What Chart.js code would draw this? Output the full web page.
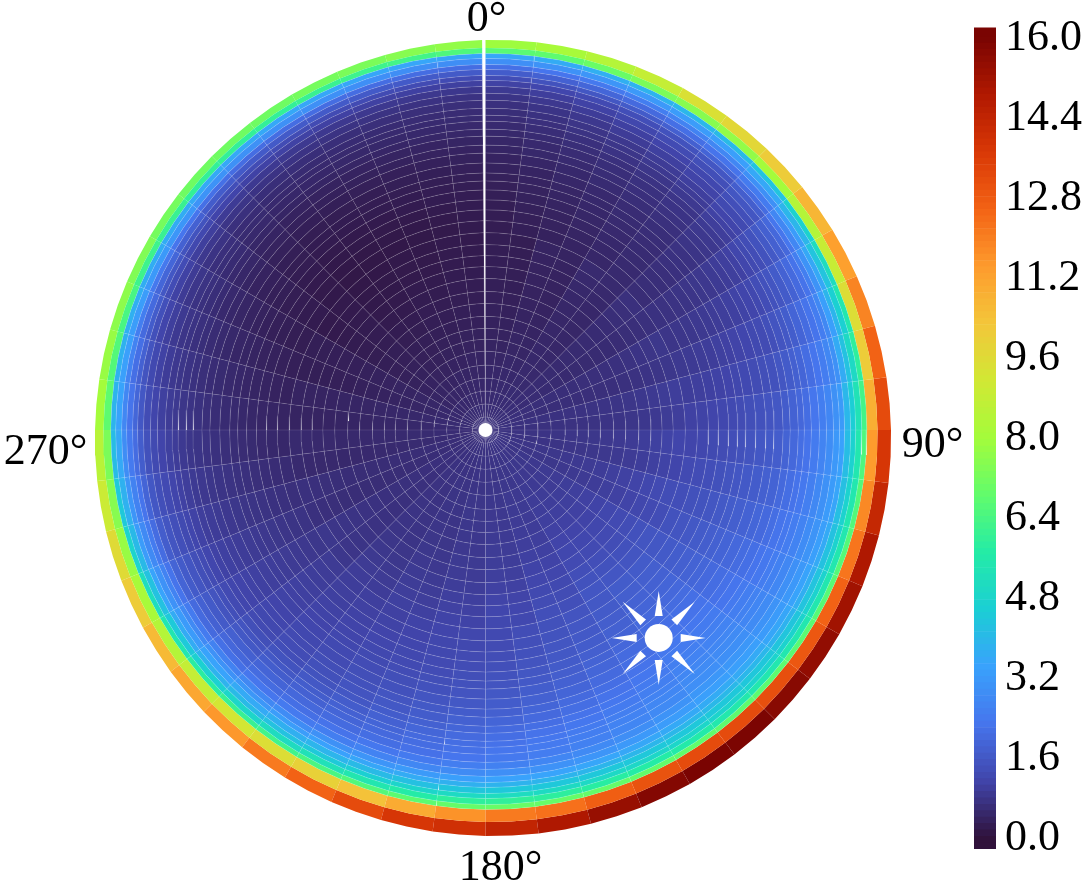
<!DOCTYPE html>
<html>
<head>
<meta charset="utf-8">
<style>
  html, body { margin: 0; background: #fff; }
  #container { position: absolute; left: 0; top: 0; }
  #bar { position: absolute; left: 960px; top: 0; }
</style>
<script src="https://cdn.jsdelivr.net/npm/chart.js@4"></script>
</head>
<body>
<canvas id="container" width="1088" height="885"></canvas>
<canvas id="bar" width="128" height="885"></canvas>
<script>
var ringEdges = [0,13,26,39,52,65,79,91,102,114,127,139,152,164,175,186,198,210,221,231,241,250,258,268,278,286,295,302,310,316,323,331,338,345,351,356,362,367,373,378,387,398]
var sectorStep = 7.5
var angleLabels = ["0°", "90°", "180°", "270°"]
var tickLabels = [0, 1.6, 3.2, 4.8, 6.4, 8, 9.6, 11.2, 12.8, 14.4, 16]
var sunAzimuth = 140.2
var sunRadius = 270.6

// the two outer rings, one value for each 7.5 degree sector
var rimRing = [6.7,6.8,7.0,7.3,7.5,7.7,8.0,8.4,8.9,9.5,10.1,10.9,11.4,11.8,12.2,12.6,12.9,13.1,13.2,13.2,13.0,12.7,12.3,12.1,11.6,11.0,10.4,9.9,9.5,9.2,8.8,8.4,8.1,7.8,7.5,7.3,6.8,6.6,6.4,6.2,6.1,6.0,6.0,6.0,6.1,6.2,6.3,6.5]
var outerRing = [7.9,8.1,8.4,8.8,9.4,9.7,10.1,10.7,11.3,11.9,12.6,13.2,13.8,14.3,14.9,15.2,15.5,15.7,15.95,16,15.8,15.4,14.9,14.4,14.0,13.8,13.2,12.6,12.1,11.5,11.1,10.6,10.1,9.6,9.0,8.5,8.0,7.8,7.6,7.4,7.2,7.1,7.1,7.1,7.2,7.3,7.5,7.7]

// inside rings near the pole, one value per 15 degrees (estimated from the colours)
var poleRings = [
[.63,.64,.65,.65,.66,.67,.67,.69,.70,.70,.69,.67,.67,.66,.65,.64,.63,.61,.61,.61,.60,.60,.61,.62],
[.58,.59,.60,.62,.65,.68,.70,.73,.75,.75,.74,.72,.70,.69,.67,.65,.62,.59,.57,.56,.55,.55,.56,.57],
[.54,.56,.58,.61,.65,.68,.72,.75,.78,.79,.77,.75,.73,.70,.68,.65,.61,.58,.55,.52,.50,.50,.51,.52],
[.50,.53,.56,.59,.64,.69,.73,.78,.82,.83,.80,.78,.75,.72,.70,.66,.61,.57,.54,.50,.45,.45,.47,.48],
[.47,.50,.53,.58,.63,.69,.75,.80,.85,.86,.83,.80,.77,.74,.71,.66,.61,.55,.51,.46,.42,.41,.43,.44],
[.44,.47,.51,.56,.63,.70,.76,.82,.89,.90,.87,.83,.80,.76,.71,.66,.60,.55,.49,.44,.39,.37,.39,.41],
[.40,.44,.49,.55,.63,.71,.79,.85,.92,.94,.90,.86,.82,.77,.72,.67,.60,.54,.48,.41,.35,.33,.35,.37],
[.38,.43,.48,.54,.63,.72,.80,.88,.96,.97,.92,.88,.83,.77,.73,.67,.60,.53,.47,.40,.33,.31,.33,.35],
[.36,.41,.47,.55,.64,.73,.82,.91,1.00,1.01,.95,.90,.84,.79,.74,.67,.60,.53,.46,.38,.31,.29,.30,.32],
[.34,.40,.47,.55,.65,.75,.85,.95,1.05,1.06,.99,.93,.86,.80,.75,.68,.60,.52,.44,.36,.29,.26,.28,.30],
[.32,.39,.46,.56,.66,.77,.88,1.00,1.10,1.12,1.04,.96,.89,.83,.77,.70,.60,.51,.43,.34,.26,.23,.25,.27],
[.30,.38,.47,.57,.68,.80,.92,1.05,1.18,1.19,1.10,1.00,.92,.86,.80,.72,.61,.50,.42,.32,.24,.20,.22,.25],
[.29,.38,.48,.59,.71,.84,.97,1.11,1.26,1.27,1.16,1.05,.96,.90,.83,.74,.62,.51,.41,.31,.22,.18,.20,.23],
[.28,.38,.49,.62,.75,.88,1.03,1.18,1.34,1.36,1.23,1.11,1.01,.94,.87,.77,.64,.51,.40,.30,.20,.16,.18,.21],
[.27,.39,.51,.64,.78,.93,1.09,1.26,1.43,1.45,1.30,1.17,1.05,.98,.91,.79,.66,.52,.40,.29,.19,.15,.17,.20],
[.26,.40,.53,.67,.82,.98,1.15,1.34,1.53,1.55,1.38,1.22,1.10,1.03,.95,.83,.68,.53,.40,.29,.18,.14,.16,.19]
]

// rings further out, one value per 7.5 degrees (estimated from the colours)
var edgeRings = [
[.24,.30,.36,.41,.47,.53,.60,.70,.79,.87,.97,1.06,1.15,1.26,1.36,1.46,1.57,1.67,1.68,1.59,1.50,1.42,1.33,1.24,1.18,1.14,1.10,1.05,1.01,.97,.91,.82,.74,.65,.57,.48,.41,.36,.31,.26,.21,.16,.13,.13,.14,.15,.17,.20],
[.25,.31,.37,.42,.48,.54,.62,.71,.81,.90,1.0,1.09,1.19,1.31,1.42,1.52,1.64,1.75,1.75,1.66,1.57,1.47,1.38,1.29,1.22,1.18,1.13,1.09,1.05,1.0,.94,.85,.76,.68,.59,.50,.43,.38,.33,.27,.22,.17,.14,.14,.15,.16,.18,.21],
[.27,.33,.38,.44,.50,.55,.63,.73,.83,.94,1.04,1.14,1.25,1.36,1.48,1.59,1.71,1.82,1.83,1.73,1.63,1.54,1.44,1.34,1.27,1.22,1.17,1.13,1.08,1.03,.97,.88,.79,.70,.61,.52,.45,.40,.35,.29,.24,.19,.16,.16,.17,.18,.20,.23],
[.29,.35,.40,.46,.52,.57,.65,.76,.87,.97,1.08,1.19,1.30,1.42,1.54,1.66,1.78,1.90,1.91,1.80,1.70,1.60,1.49,1.39,1.32,1.27,1.22,1.17,1.12,1.07,1.0,.91,.82,.73,.64,.55,.47,.42,.37,.31,.26,.21,.18,.18,.19,.21,.23,.25],
[.31,.37,.42,.48,.54,.59,.68,.79,.90,1.02,1.13,1.24,1.36,1.49,1.61,1.73,1.86,1.98,1.99,1.88,1.77,1.67,1.56,1.45,1.37,1.32,1.26,1.21,1.15,1.10,1.03,.94,.85,.76,.67,.58,.50,.45,.40,.34,.29,.24,.21,.21,.22,.23,.25,.27],
[.33,.39,.44,.50,.56,.61,.70,.82,.94,1.06,1.18,1.30,1.42,1.55,1.68,1.80,1.93,2.06,2.07,1.96,1.85,1.73,1.62,1.51,1.43,1.37,1.31,1.25,1.19,1.13,1.06,.97,.88,.78,.69,.60,.53,.48,.42,.37,.31,.26,.23,.23,.24,.26,.27,.29],
[.36,.41,.47,.52,.58,.63,.72,.85,.98,1.11,1.24,1.37,1.49,1.62,1.75,1.88,2.01,2.14,2.15,2.04,1.93,1.82,1.71,1.59,1.51,1.44,1.37,1.31,1.24,1.17,1.09,1.0,.91,.82,.73,.64,.56,.51,.45,.40,.34,.29,.26,.26,.27,.29,.30,.32],
[.39,.45,.50,.56,.62,.67,.77,.90,1.03,1.17,1.30,1.43,1.57,1.70,1.83,1.97,2.10,2.23,2.24,2.13,2.02,1.91,1.80,1.69,1.59,1.52,1.44,1.37,1.29,1.22,1.13,1.04,.95,.86,.77,.68,.60,.55,.49,.44,.38,.33,.30,.30,.31,.32,.34,.35],
[.43,.49,.54,.60,.66,.71,.81,.95,1.09,1.23,1.37,1.51,1.65,1.79,1.92,2.06,2.20,2.33,2.35,2.24,2.13,2.02,1.91,1.79,1.70,1.61,1.52,1.44,1.35,1.26,1.17,1.08,.99,.90,.81,.72,.64,.59,.53,.48,.42,.37,.34,.34,.35,.36,.38,.39],
[.46,.52,.58,.63,.69,.75,.85,1.0,1.14,1.29,1.43,1.58,1.72,1.86,2.0,2.15,2.29,2.43,2.45,2.34,2.23,2.12,2.01,1.90,1.80,1.70,1.60,1.51,1.41,1.31,1.22,1.13,1.04,.95,.86,.77,.69,.64,.58,.52,.47,.41,.38,.38,.39,.40,.41,.42],
[.50,.56,.62,.67,.73,.79,.90,1.06,1.22,1.38,1.54,1.70,1.85,1.99,2.12,2.26,2.40,2.53,2.55,2.44,2.34,2.23,2.13,2.02,1.91,1.80,1.69,1.58,1.47,1.36,1.26,1.17,1.08,.99,.90,.81,.74,.69,.63,.57,.52,.46,.43,.43,.44,.45,.46,.47],
[.54,.61,.67,.74,.80,.87,.98,1.16,1.33,1.50,1.67,1.84,1.98,2.12,2.25,2.37,2.51,2.64,2.65,2.55,2.44,2.34,2.24,2.13,2.03,1.92,1.81,1.70,1.59,1.48,1.37,1.27,1.17,1.08,.98,.88,.80,.74,.68,.63,.57,.51,.48,.48,.49,.49,.50,.51],
[.59,.66,.73,.80,.87,.94,1.07,1.25,1.43,1.60,1.78,1.96,2.11,2.24,2.36,2.49,2.61,2.74,2.75,2.64,2.54,2.43,2.33,2.22,2.12,2.02,1.91,1.81,1.71,1.60,1.50,1.39,1.28,1.17,1.06,.95,.87,.80,.74,.68,.62,.55,.52,.52,.53,.53,.54,.55],
[.62,.70,.78,.85,.93,1.01,1.14,1.33,1.52,1.71,1.90,2.09,2.24,2.36,2.48,2.60,2.72,2.84,2.85,2.74,2.63,2.52,2.41,2.30,2.19,2.10,2.0,1.90,1.81,1.71,1.60,1.49,1.37,1.25,1.14,1.02,.93,.86,.79,.73,.66,.59,.56,.56,.57,.57,.58,.58],
[.68,.77,.85,.94,1.02,1.11,1.25,1.46,1.67,1.88,2.09,2.30,2.45,2.55,2.65,2.75,2.85,2.95,2.94,2.83,2.72,2.60,2.49,2.38,2.28,2.20,2.12,2.05,1.97,1.89,1.78,1.65,1.52,1.39,1.26,1.13,1.02,.95,.88,.81,.74,.67,.63,.63,.63,.64,.64,.64],
[.77,.86,.95,1.04,1.13,1.22,1.38,1.61,1.83,2.06,2.28,2.51,2.67,2.77,2.86,2.96,3.06,3.15,3.15,3.04,2.93,2.82,2.71,2.60,2.51,2.42,2.33,2.24,2.15,2.06,1.95,1.81,1.67,1.53,1.39,1.25,1.14,1.07,1.0,.92,.85,.78,.74,.74,.73,.73,.72,.72],
[.89,.99,1.08,1.18,1.28,1.37,1.54,1.78,2.02,2.25,2.49,2.73,2.90,2.99,3.08,3.17,3.26,3.35,3.36,3.28,3.19,3.11,3.03,2.94,2.85,2.74,2.63,2.52,2.41,2.30,2.17,2.02,1.87,1.72,1.57,1.42,1.30,1.23,1.15,1.07,1.0,.92,.88,.87,.86,.86,.85,.84],
[1.07,1.17,1.26,1.36,1.46,1.55,1.73,1.98,2.23,2.49,2.74,2.99,3.17,3.26,3.35,3.45,3.54,3.63,3.66,3.61,3.56,3.52,3.47,3.42,3.34,3.23,3.11,2.99,2.88,2.76,2.61,2.43,2.25,2.07,1.89,1.71,1.58,1.49,1.40,1.31,1.22,1.13,1.08,1.07,1.06,1.05,1.04,1.03],
[1.34,1.45,1.56,1.67,1.78,1.89,2.07,2.30,2.53,2.77,3.0,3.23,3.40,3.51,3.62,3.73,3.84,3.95,3.99,3.96,3.94,3.91,3.89,3.86,3.79,3.66,3.54,3.41,3.29,3.16,3.01,2.82,2.63,2.45,2.26,2.07,1.92,1.81,1.70,1.58,1.47,1.36,1.30,1.30,1.29,1.29,1.28,1.28],
[1.70,1.81,1.92,2.03,2.14,2.25,2.45,2.75,3.05,3.35,3.65,3.95,4.12,4.17,4.22,4.28,4.33,4.38,4.4,4.4,4.4,4.4,4.4,4.4,4.33,4.19,4.05,3.90,3.76,3.62,3.45,3.24,3.03,2.82,2.61,2.40,2.25,2.14,2.03,1.92,1.81,1.70,1.65,1.65,1.65,1.65,1.65,1.65],
[2.16,2.28,2.39,2.51,2.63,2.74,2.96,3.28,3.59,3.91,4.23,4.54,4.70,4.71,4.72,4.73,4.74,4.75,4.78,4.84,4.90,4.95,5.01,5.07,5.0,4.81,4.62,4.43,4.24,4.05,3.85,3.66,3.47,3.28,3.09,2.90,2.74,2.63,2.51,2.39,2.28,2.16,2.1,2.1,2.1,2.1,2.1,2.1],
[2.94,3.03,3.11,3.19,3.28,3.36,3.57,3.93,4.28,4.62,4.98,5.32,5.5,5.5,5.5,5.5,5.5,5.5,5.54,5.63,5.71,5.79,5.88,5.96,5.90,5.69,5.48,5.27,5.06,4.85,4.65,4.44,4.23,4.02,3.81,3.60,3.46,3.38,3.29,3.21,3.13,3.04,3.0,2.98,2.96,2.94,2.92,2.91],
[3.55,3.65,3.75,3.85,3.95,4.05,4.3,4.7,5.1,5.5,5.9,6.3,6.52,6.58,6.62,6.68,6.72,6.78,6.82,6.85,6.88,6.92,6.95,6.98,6.92,6.75,6.58,6.42,6.25,6.08,5.82,5.47,5.12,4.78,4.43,4.08,3.88,3.82,3.78,3.72,3.68,3.62,3.6,3.58,3.56,3.54,3.52,3.51]
]

var turbo = ["#30123b","#4145ab","#4675ed","#39a2fc","#1bcfd4","#24eca6","#61fc6c","#a4fc3b","#d1e834","#f3c63a","#fe9b2d","#f36315","#d93806","#b11901","#7a0402"]

function getColor(value) {
  var pos = Math.min(Math.max(value / 16, 0), 1) * (turbo.length - 1)
  var low = Math.min(Math.floor(pos), turbo.length - 2)
  var t = pos - low
  var rgb = []
  for (var c = 0; c < 3; c++) {
    var a = parseInt(turbo[low].substr(1 + c * 2, 2), 16)
    var b = parseInt(turbo[low + 1].substr(1 + c * 2, 2), 16)
    rgb.push(Math.round(a + (b - a) * t))
  }
  return "rgb(" + rgb.join(",") + ")"
}

// the rings are not quite concentric, they slide towards the lower right
function edgeShift(k) {
  if (k == ringEdges.length - 1) return [7.5, 8]
  if (k == ringEdges.length - 2) return [5, 5]
  var f = ringEdges[k] / 378
  return [3.3 * f, 1.5 * f]
}

function polarPoint(azimuth, k) {
  var rad = azimuth * Math.PI / 180
  var shift = edgeShift(k)
  var r = ringEdges[k] + shift[0] * Math.sin(rad) - shift[1] * Math.cos(rad)
  return { x: r * Math.sin(rad), y: r * Math.cos(rad) }
}

function shape(points, color, seam) {
  return {
    data: points,
    showLine: true,
    fill: "shape",
    tension: 0,
    pointRadius: 0,
    borderColor: seam ? "rgba(255,255,255,0.1)" : "rgba(0,0,0,0)",
    borderWidth: seam ? 1 : 0,
    backgroundColor: color
  }
}

function getCellValue(ring, sector) {
  var inner = poleRings.length + edgeRings.length
  if (ring == inner) return rimRing[sector]
  if (ring == inner + 1) return outerRing[sector]
  if (ring < poleRings.length) return poleRings[ring][Math.floor(sector / 2)]
  return edgeRings[ring - poleRings.length][sector]
}

function getCells() {
  var cells = []
  var inner = poleRings.length + edgeRings.length
  for (var ring = 0; ring < ringEdges.length - 1; ring++) {
    for (var sector = 0; sector < 360 / sectorStep; sector++) {
      var start = sector * sectorStep
      var end = Math.min(start + sectorStep, 359.5)
      var mid = (start + end) / 2
      var points = [polarPoint(start, ring + 1), polarPoint(mid, ring + 1), polarPoint(end, ring + 1)]
      if (ring > 0) points.push(polarPoint(end, ring), polarPoint(mid, ring))
      points.push(polarPoint(start, ring))
      cells.push(shape(points, getColor(getCellValue(ring, sector)), ring < inner))
    }
  }
  return cells
}

function getSun() {
  var rad = sunAzimuth * Math.PI / 180
  var cx = sunRadius * Math.sin(rad)
  var cy = sunRadius * Math.cos(rad)
  var sets = [{
    data: [{ x: cx, y: cy }, { x: 0, y: 0 }],
    pointRadius: [14, 7],
    pointBackgroundColor: "#fff",
    pointBorderWidth: 0,
    showLine: false
  }]
  for (var i = 0; i < 8; i++) {
    var a = i * Math.PI / 4
    var tip = i % 2 ? 51 : 47
    var ux = Math.sin(a), uy = Math.cos(a)
    sets.push(shape([
      { x: cx + ux * 22 - uy * 4, y: cy + uy * 22 + ux * 4 },
      { x: cx + ux * tip, y: cy + uy * tip },
      { x: cx + ux * 22 + uy * 4, y: cy + uy * 22 - ux * 4 }
    ], "#fff", false))
  }
  return sets
}

// spoke labels, placed by hand like the original
var labelPlugin = {
  id: "angleLabels",
  afterDraw: function(chart) {
    var places = [[1, 411], [447, -15], [15, -438], [-440, -22]]
    var ctx = chart.ctx
    ctx.save()
    ctx.font = "44px 'Liberation Serif'"
    ctx.fillStyle = "#000"
    ctx.textAlign = "center"
    ctx.textBaseline = "middle"
    for (var i = 0; i < angleLabels.length; i++) {
      ctx.fillText(angleLabels[i], chart.scales.x.getPixelForValue(places[i][0]), chart.scales.y.getPixelForValue(places[i][1]))
    }
    ctx.restore()
  }
}

function renderPolar() {
  new Chart(document.getElementById("container"), {
    type: "scatter",
    data: { datasets: getSun().concat(getCells()) },
    plugins: [labelPlugin],
    options: {
      responsive: false,
      animation: false,
      events: [],
      layout: { padding: 0, autoPadding: false },
      plugins: { legend: { display: false }, tooltip: { enabled: false } },
      scales: {
        x: { display: false, min: -485.5, max: 602.5 },
        y: { display: false, min: -455, max: 430 }
      }
    }
  })
}

function renderColorBar() {
  var bands = []
  var step = 0.128
  for (var v = -0.22; v < 16.22; v += step) {
    bands.push({
      data: [[v, Math.min(v + step, 16.22)]],
      backgroundColor: getColor(v + step / 2),
      borderWidth: 0,
      barPercentage: 1,
      categoryPercentage: 1,
      grouped: false
    })
  }
  new Chart(document.getElementById("bar"), {
    type: "bar",
    data: { labels: [""], datasets: bands },
    options: {
      responsive: false,
      animation: false,
      events: [],
      layout: { padding: { left: 14, top: 27, bottom: 36, right: 0 }, autoPadding: false },
      plugins: { legend: { display: false }, tooltip: { enabled: false } },
      scales: {
        x: { display: false },
        y: {
          position: "right",
          min: -0.22,
          max: 16.22,
          grid: { display: false },
          border: { display: false },
          afterBuildTicks: function(scale) {
            scale.ticks = tickLabels.map(function(v) { return { value: v } })
          },
          afterFit: function(scale) { scale.width = 92 },
          ticks: {
            padding: 1,
            color: "#000",
            font: { family: "'Liberation Serif'", size: 44 },
            callback: function(v) { return Number(v).toFixed(1) }
          }
        }
      }
    }
  })
}

renderPolar()
renderColorBar()
</script>
</body>
</html>
